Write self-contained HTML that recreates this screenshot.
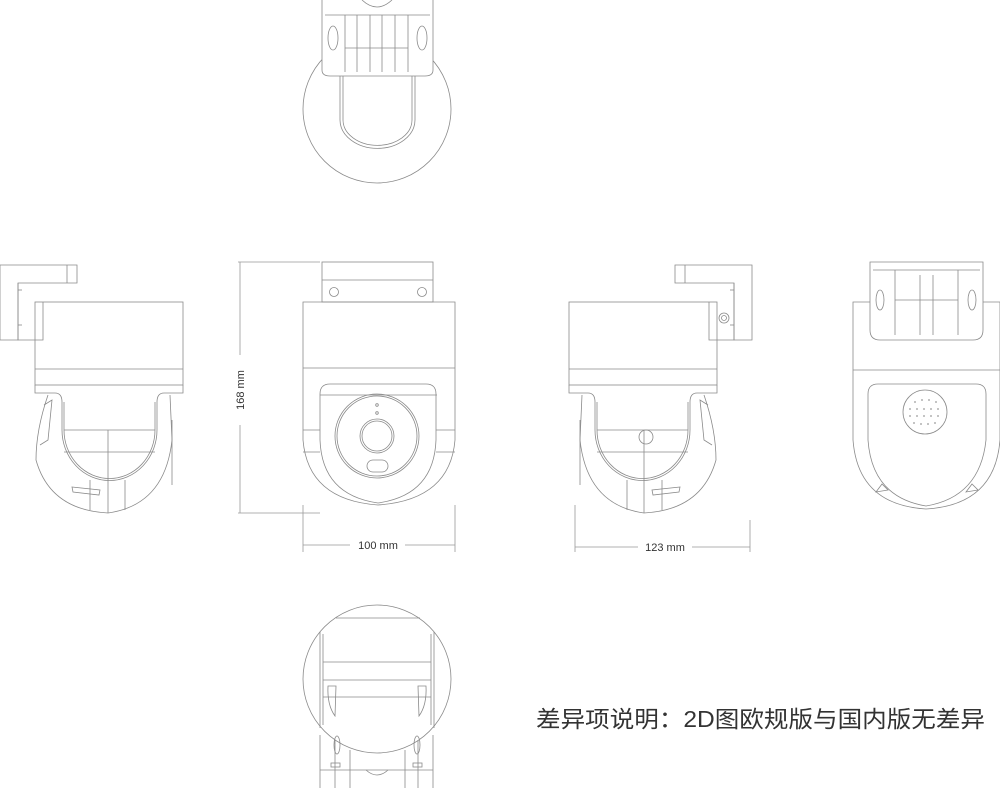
<!DOCTYPE html>
<html><head><meta charset="utf-8"><style>
html,body{margin:0;padding:0;background:#fff;}
svg{display:block;}
</style></head><body>
<svg width="1000" height="788" viewBox="0 0 1000 788" xmlns="http://www.w3.org/2000/svg">
<defs>
<g id="side" fill="none" stroke="#8a8a8a" stroke-width="0.8">
  <path d="M0 265 H77 V283 H18 V340 H0 Z"/>
  <path d="M18 283 V340 H43 V302"/>
  <path d="M67 265 V283"/>
  <line x1="18" y1="290" x2="22" y2="290"/><line x1="18" y1="325" x2="22" y2="325"/>
  <rect x="35" y="302" width="148" height="83"/>
  <line x1="35" y1="369" x2="183" y2="369"/>
  <path d="M35 385 V393 H55 Q62 393 62 402 V430 A47 50 0 0 0 157 430 V402 Q157 393 164 393 H183 V385"/>
  <path d="M64 402 V430 A45 48 0 0 0 155 430 V402"/>
  <path d="M48 395 Q36 430 36 460 Q50 510 108 513 Q165 505 172 440 L170 395"/>
  <line x1="64" y1="430" x2="155" y2="430"/>
  <line x1="64" y1="452" x2="155" y2="452"/>
  <line x1="108" y1="430" x2="108" y2="513"/>
  <line x1="90" y1="480" x2="90" y2="510"/>
  <line x1="125" y1="480" x2="125" y2="510"/>
  <path d="M72 487 L100 490 L99 495 L73 492 Z"/>
  <path d="M44 405 L52 400 L48 440 L40 445"/>
  <path d="M172 420 V485"/>
</g>
</defs>

<!-- TOP VIEW -->
<g fill="none" stroke="#8a8a8a" stroke-width="0.8">
  <circle cx="377" cy="109" r="74"/>
  <path d="M322 0 V70 Q322 76 330 76 H425 Q433 76 433 70 V0" fill="#fff"/>
  <path d="M340 76 V120 A37 28 0 0 0 415 120 V76"/>
  <path d="M343 76 V120 A34 25 0 0 0 412 120 V76"/>
  <line x1="325" y1="15" x2="430" y2="15"/>
  <line x1="345" y1="15" x2="345" y2="72"/><line x1="357" y1="15" x2="357" y2="72"/>
  <line x1="370" y1="15" x2="370" y2="72"/><line x1="382" y1="15" x2="382" y2="72"/>
  <line x1="395" y1="15" x2="395" y2="72"/><line x1="408" y1="15" x2="408" y2="72"/>
  <line x1="345" y1="48" x2="408" y2="48"/>
  <ellipse cx="333" cy="38" rx="5" ry="12"/><ellipse cx="422" cy="38" rx="5" ry="12"/>
  <path d="M362 0 Q377 14 392 0"/>
</g>

<use href="#side"/>
<use href="#side" transform="translate(752,0) scale(-1,1)"/>
<g fill="none" stroke="#8a8a8a" stroke-width="0.8">
  <circle cx="724" cy="318" r="5"/><circle cx="724" cy="318" r="2.5"/>
  <circle cx="646" cy="437" r="7"/>
</g>

<!-- FRONT VIEW -->
<g fill="none" stroke="#8a8a8a" stroke-width="0.8">
  <rect x="322" y="262" width="111" height="40"/>
  <line x1="322" y1="280" x2="433" y2="280"/>
  <circle cx="334" cy="292" r="4.5"/><circle cx="422" cy="292" r="4.5"/>
  <path d="M303 302 H455 V440 Q450 500 378 505 Q308 500 303 440 Z"/>
  <line x1="303" y1="368" x2="455" y2="368"/>
  <path d="M320 440 V394 Q320 384 330 384 H426 Q436 384 436 394 V440"/>
  <path d="M320 395 H437"/>
  <path d="M320 440 Q322 495 378 503 Q434 495 436 440"/>
  <line x1="303" y1="430" x2="320" y2="430"/><line x1="436" y1="430" x2="455" y2="430"/>
  <line x1="303" y1="452" x2="320" y2="452"/><line x1="436" y1="452" x2="455" y2="452"/>
  <circle cx="377" cy="436" r="42"/><circle cx="377" cy="436" r="40"/>
  <circle cx="377" cy="436" r="17"/><circle cx="377" cy="436" r="15"/>
  <circle cx="377" cy="405" r="1.3"/><circle cx="377" cy="413" r="1.3"/>
  <rect x="367" y="460" width="21" height="12" rx="6"/>
</g>

<!-- REAR VIEW -->
<g fill="none" stroke="#8a8a8a" stroke-width="0.8">
  <path d="M853 302 H1000 V440 Q995 505 926 509 Q858 505 853 440 Z"/>
  <line x1="853" y1="370" x2="1000" y2="370"/>
  <path d="M870 262 H983 V330 Q983 340 973 340 H880 Q870 340 870 330 Z" fill="#fff"/>
  <line x1="873" y1="270" x2="980" y2="270"/>
  <line x1="895" y1="270" x2="895" y2="335"/><line x1="958" y1="270" x2="958" y2="335"/>
  <line x1="920" y1="275" x2="920" y2="335"/><line x1="933" y1="275" x2="933" y2="335"/>
  <line x1="895" y1="300" x2="958" y2="300"/>
  <ellipse cx="880" cy="300" rx="4" ry="10"/><ellipse cx="972" cy="300" rx="4" ry="10"/>
  <path d="M868 440 V394 Q868 384 878 384 H976 Q986 384 986 394 V440"/>
  <path d="M868 440 Q872 497 926 506 Q980 497 986 440"/>
  <circle cx="925" cy="412" r="22"/>
  <path d="M876 492 L882 484 L888 490 Z"/><path d="M966 492 L972 484 L978 490 Z"/>
</g>
<g fill="#999">
  <circle cx="915" cy="402" r="0.9"/><circle cx="922" cy="400" r="0.9"/><circle cx="929" cy="400" r="0.9"/><circle cx="936" cy="402" r="0.9"/>
  <circle cx="910" cy="409" r="0.9"/><circle cx="917" cy="409" r="0.9"/><circle cx="924" cy="409" r="0.9"/><circle cx="931" cy="409" r="0.9"/><circle cx="938" cy="409" r="0.9"/>
  <circle cx="910" cy="416" r="0.9"/><circle cx="917" cy="416" r="0.9"/><circle cx="924" cy="416" r="0.9"/><circle cx="931" cy="416" r="0.9"/><circle cx="938" cy="416" r="0.9"/>
  <circle cx="914" cy="423" r="0.9"/><circle cx="921" cy="424" r="0.9"/><circle cx="928" cy="424" r="0.9"/><circle cx="935" cy="423" r="0.9"/>
</g>

<!-- BOTTOM VIEW -->
<g fill="none" stroke="#8a8a8a" stroke-width="0.8">
  <circle cx="377" cy="679" r="74"/>
  <path d="M336 618 H420"/>
  <line x1="320" y1="632" x2="320" y2="728"/><line x1="434" y1="632" x2="434" y2="728"/>
  <line x1="323" y1="634" x2="323" y2="725"/><line x1="431" y1="634" x2="431" y2="725"/>
  <line x1="323" y1="662" x2="431" y2="662"/>
  <line x1="323" y1="680" x2="431" y2="680"/>
  <line x1="323" y1="697" x2="431" y2="697"/>
  <path d="M328 686 Q327 705 335 716 L336 686 Z"/><path d="M426 686 Q427 705 419 716 L418 686 Z"/>
  <path d="M320 735 V788 M433 735 V788"/>
  <line x1="320" y1="770" x2="433" y2="770"/>
  <line x1="335" y1="740" x2="335" y2="788"/><line x1="418" y1="740" x2="418" y2="788"/>
  <line x1="350" y1="750" x2="350" y2="788"/><line x1="405" y1="750" x2="405" y2="788"/>
  <path d="M366 770 Q377 780 388 770"/>
  <rect x="331" y="763" width="9" height="4"/><rect x="413" y="763" width="9" height="4"/>
  <ellipse cx="337" cy="745" rx="3" ry="9"/><ellipse cx="417" cy="745" rx="3" ry="9"/>
</g>

<!-- DIMENSIONS -->
<g stroke="#999" stroke-width="0.8" fill="none">
  <line x1="238" y1="262" x2="320" y2="262"/>
  <line x1="238" y1="513" x2="320" y2="513"/>
  <line x1="240" y1="262" x2="240" y2="355"/>
  <line x1="240" y1="425" x2="240" y2="513"/>
  <line x1="303" y1="505" x2="303" y2="552"/>
  <line x1="455" y1="505" x2="455" y2="552"/>
  <line x1="303" y1="545" x2="350" y2="545"/>
  <line x1="405" y1="545" x2="455" y2="545"/>
  <line x1="575" y1="505" x2="575" y2="552"/>
  <line x1="750" y1="520" x2="750" y2="552"/>
  <line x1="575" y1="547" x2="638" y2="547"/>
  <line x1="692" y1="547" x2="750" y2="547"/>
</g>
<g font-family="Liberation Sans, sans-serif" font-size="11" fill="#333">
  <text x="378" y="549" text-anchor="middle">100 mm</text>
  <text x="665" y="551" text-anchor="middle">123 mm</text>
  <text transform="translate(244,390) rotate(-90)" text-anchor="middle">168 mm</text>
</g>
<text x="536" y="727" font-family="Liberation Sans, 'Noto Sans CJK SC', sans-serif" font-size="23" fill="#333" textLength="449" lengthAdjust="spacingAndGlyphs">差异项说明：2D图欧规版与国内版无差异</text>
</svg>
</body></html>
